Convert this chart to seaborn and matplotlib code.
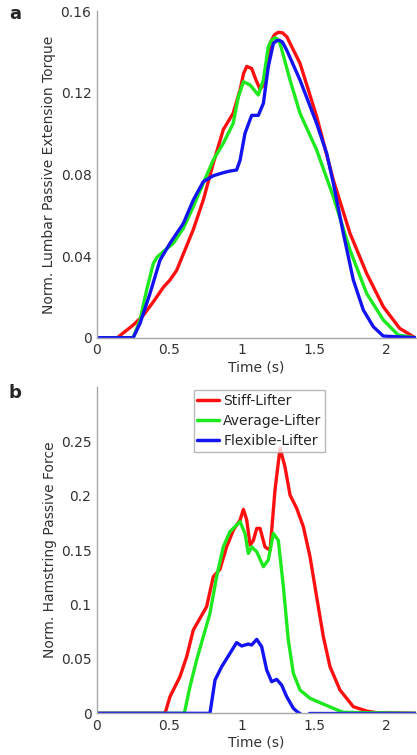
import numpy as np
import pandas as pd
import matplotlib
matplotlib.use("Agg")
import matplotlib.pyplot as plt
import seaborn as sns

# panel a: lumbar passive extension torque
stiff_a_t = [0, 0.14, 0.25, 0.32, 0.39, 0.458, 0.504, 0.55, 0.596, 0.665, 0.734, 0.803, 0.872,
             0.94, 0.988, 1.012, 1.034, 1.068, 1.1, 1.126, 1.16, 1.195, 1.225, 1.252, 1.28, 1.31,
             1.402, 1.517, 1.632, 1.747, 1.862, 1.977, 2.09, 2.185, 2.2]
stiff_a = [0, 0, 0.0062, 0.011, 0.0177, 0.0247, 0.0283, 0.033, 0.041, 0.053, 0.0675, 0.0855, 0.102,
           0.110, 0.1214, 0.1295, 0.133, 0.132, 0.126, 0.1218, 0.1247, 0.1443, 0.1485, 0.1497,
           0.1495, 0.1476, 0.1345, 0.1084, 0.0773, 0.0512, 0.0315, 0.0152, 0.0046, 0.0005, 0]

avg_a_t = [0, 0.25, 0.297, 0.343, 0.389, 0.415, 0.458, 0.527, 0.596, 0.665, 0.734, 0.803, 0.872,
           0.94, 0.976, 1.011, 1.057, 1.114, 1.149, 1.183, 1.205, 1.229, 1.245, 1.264, 1.333,
           1.402, 1.517, 1.632, 1.747, 1.862, 1.977, 2.08, 2.2]
avg_a = [0, 0, 0.0087, 0.0234, 0.0364, 0.0395, 0.0422, 0.0463, 0.0536, 0.0642, 0.0757, 0.0871,
         0.0953, 0.105, 0.118, 0.1255, 0.1239, 0.119, 0.1263, 0.1427, 0.1458, 0.147, 0.1465,
         0.1443, 0.1263, 0.110, 0.092, 0.0691, 0.043, 0.0217, 0.0087, 0.0013, 0]

flex_a_t = [0, 0.25, 0.297, 0.366, 0.435, 0.504, 0.596, 0.665, 0.734, 0.803, 0.872, 0.918, 0.964,
            0.988, 1.022, 1.068, 1.114, 1.149, 1.183, 1.218, 1.24, 1.259, 1.28, 1.31, 1.402,
            1.517, 1.586, 1.632, 1.701, 1.77, 1.839, 1.908, 1.977, 2.2]
flex_a = [0, 0, 0.007, 0.0217, 0.038, 0.0463, 0.056, 0.0675, 0.0765, 0.0794, 0.0809, 0.0817, 0.0822,
          0.087, 0.1002, 0.109, 0.109, 0.1149, 0.1329, 0.1443, 0.1456, 0.1458, 0.145, 0.141,
          0.1263, 0.105, 0.0904, 0.0757, 0.0512, 0.0283, 0.0136, 0.0054, 0.0008, 0]

# panel b: hamstring passive force
stiff_b_t = [0, 0.47, 0.504, 0.573, 0.619, 0.665, 0.711, 0.757, 0.803, 0.849, 0.895, 0.942, 0.988,
             1.011, 1.034, 1.057, 1.08, 1.103, 1.126, 1.16, 1.195, 1.229, 1.264, 1.298, 1.333,
             1.379, 1.425, 1.471, 1.517, 1.563, 1.609, 1.678, 1.77, 1.862, 1.93, 2.2]
stiff_b = [0, 0, 0.0153, 0.0337, 0.052, 0.0766, 0.0873, 0.098, 0.1256, 0.1324, 0.153, 0.1685, 0.1777,
           0.1875, 0.1777, 0.1547, 0.159, 0.170, 0.170, 0.153, 0.150, 0.205, 0.2436, 0.2267, 0.2007,
           0.1884, 0.1716, 0.144, 0.107, 0.0705, 0.0429, 0.0214, 0.0061, 0.0021, 0.0006, 0]

avg_b_t = [0, 0.603, 0.642, 0.688, 0.734, 0.78, 0.826, 0.872, 0.918, 0.953, 0.988, 1.022, 1.045,
           1.068, 1.103, 1.149, 1.183, 1.218, 1.252, 1.287, 1.321, 1.356, 1.402, 1.471, 1.54,
           1.632, 1.7, 2.2]
avg_b = [0, 0, 0.0245, 0.049, 0.0705, 0.0919, 0.1256, 0.153, 0.167, 0.1716, 0.1762, 0.1654, 0.147,
         0.153, 0.1486, 0.1348, 0.141, 0.1654, 0.159, 0.1164, 0.0674, 0.0368, 0.0214, 0.0138, 0.0098,
         0.0046, 0.0009, 0]

# flexible lifter has a short gap in the record around 1.40-1.47 s
flex_b_t = [0, 0.78, 0.815, 0.861, 0.918, 0.964, 0.999, 1.045, 1.068, 1.103, 1.137, 1.172, 1.206,
            1.241, 1.275, 1.31, 1.356, 1.39, 1.402, 1.466, 2.2]
flex_b = [0, 0, 0.0306, 0.0429, 0.0551, 0.065, 0.0619, 0.0637, 0.0628, 0.068, 0.0613, 0.0398, 0.0291,
          0.0312, 0.026, 0.0153, 0.0046, 0.0006, 0, 0, 0]
flex_b_seg = [0] * 19 + [1, 1]

groups = ["Stiff-Lifter", "Average-Lifter", "Flexible-Lifter"]
colors = {"Stiff-Lifter": "#ff1010", "Average-Lifter": "#1ee81e", "Flexible-Lifter": "#1414f0"}


def long_form(series):
    rows = []
    for name, t, v, seg in series:
        for i in range(len(t)):
            rows.append({"t": t[i], "v": v[i], "group": name, "seg": seg[i] if seg else 0})
    return pd.DataFrame(rows)


df_a = long_form([("Stiff-Lifter", stiff_a_t, stiff_a, None),
                  ("Average-Lifter", avg_a_t, avg_a, None),
                  ("Flexible-Lifter", flex_a_t, flex_a, None)])
df_b = long_form([("Stiff-Lifter", stiff_b_t, stiff_b, None),
                  ("Average-Lifter", avg_b_t, avg_b, None),
                  ("Flexible-Lifter", flex_b_t, flex_b, flex_b_seg)])

sns.set_style("white")
plt.rcParams["font.family"] = ["DejaVu Sans"]

fig = plt.figure(figsize=(4.17, 7.55), dpi=100)
ax_a = fig.add_axes([0.2326, 0.5527, 0.764, 0.4323])
ax_b = fig.add_axes([0.2326, 0.0552, 0.764, 0.4322])

for ax, df in [(ax_a, df_a), (ax_b, df_b)]:
    sns.lineplot(data=df, x="t", y="v", hue="group", hue_order=groups, palette=colors,
                 units="seg", estimator=None, sort=False, linewidth=2.4, ax=ax,
                 legend=(ax is ax_b))

gray = "#a8a8a8"
for ax in (ax_a, ax_b):
    ax.set_xlim(0, 2.2)
    ax.set_xticks([0, 0.5, 1, 1.5, 2])
    ax.set_xticklabels(["0", "0.5", "1", "1.5", "2"])
    ax.set_xlabel("Time (s)", fontsize=10, color="#333333", labelpad=2)
    for s in ["top", "right"]:
        ax.spines[s].set_visible(False)
    for s in ["left", "bottom"]:
        ax.spines[s].set_color(gray)
        ax.spines[s].set_linewidth(1.0)
    ax.tick_params(direction="in", length=14, width=1.0, color=gray, labelcolor="#333333",
                   labelsize=10, pad=4)

ax_a.set_ylim(0, 0.16)
ax_a.set_yticks([0, 0.04, 0.08, 0.12, 0.16])
ax_a.set_yticklabels(["0", "0.04", "0.08", "0.12", "0.16"])
ax_a.set_ylabel("Norm. Lumbar Passive Extension Torque", fontsize=10, color="#333333", labelpad=3)

ax_b.set_ylim(0, 0.3)
ax_b.set_yticks([0, 0.05, 0.1, 0.15, 0.2, 0.25])
ax_b.set_yticklabels(["0", "0.05", "0.1", "0.15", "0.2", "0.25"])
ax_b.set_ylabel("Norm. Hamstring Passive Force", fontsize=10, color="#333333", labelpad=3)

leg = ax_b.legend(loc="upper left", bbox_to_anchor=(0.303, 0.99), fontsize=10, frameon=True,
                  fancybox=False, handlelength=1.6, handletextpad=0.3, borderpad=0.25,
                  labelspacing=0.45, borderaxespad=0)
leg.get_frame().set_edgecolor(gray)
leg.get_frame().set_linewidth(1.0)
for line in leg.get_lines():
    line.set_linewidth(2.5)

fig.text(0.036, 0.982, "a", fontsize=13, fontweight="bold", ha="center", va="center")
fig.text(0.036, 0.479, "b", fontsize=13, fontweight="bold", ha="center", va="center")

fig.savefig("out.png", dpi=100)
